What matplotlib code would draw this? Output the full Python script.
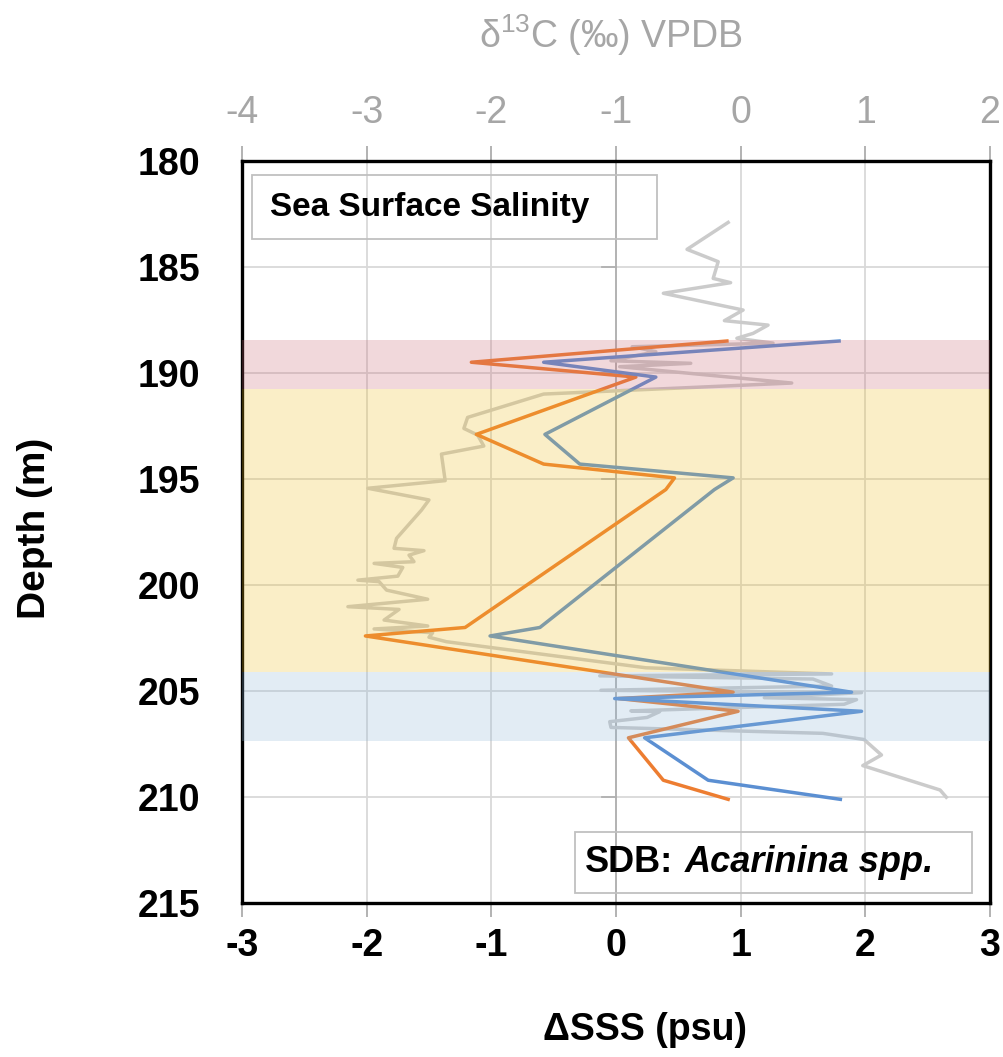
import numpy as np
import matplotlib
matplotlib.use("Agg")
import matplotlib.pyplot as plt
from matplotlib.patches import Rectangle

plt.rcParams['font.family'] = ['Liberation Sans', 'DejaVu Sans']
plt.rcParams['mathtext.default'] = 'regular'
plt.rcParams['axes.unicode_minus'] = False

# SDB salinity reconstructions (depth in m, delta SSS in psu)
depth_sdb = [188.5, 189.5, 190.2, 192.9, 194.3, 194.95, 195.5, 202.0, 202.4,
             205.05, 205.35, 205.95, 207.2, 209.2, 210.1]
sss_orange = [0.89, -1.16, 0.16, -1.12, -0.58, 0.47, 0.40, -1.21, -2.01,
              0.94, 0.02, 0.98, 0.10, 0.38, 0.90]
sss_blue = [1.79, -0.58, 0.32, -0.57, -0.29, 0.94, 0.79, -0.61, -1.01,
            1.89, -0.01, 1.97, 0.23, 0.74, 1.80]

# bulk carbon isotope record (top axis)
depth_c13 = [182.91, 184.18, 184.76, 185.55, 185.75, 186.25, 187.04, 187.54, 187.75,
             188.14, 188.37, 188.6, 188.77, 189.0, 189.43, 189.55, 189.71, 190.48,
             191.0, 192.1, 192.62, 192.93, 193.45, 193.83, 195.08, 195.44, 195.99,
             196.47, 197.8, 198.27, 198.38, 198.59, 198.9, 198.98, 199.17, 199.58,
             199.77, 199.84, 200.24, 200.67, 201.02, 201.15, 201.65, 201.93, 202.07,
             202.25, 202.46, 202.67, 203.9, 204.19, 204.28, 204.43, 204.76, 204.96,
             205.07, 205.31, 205.4, 205.62, 205.93, 205.97, 206.24, 206.44, 206.71,
             206.99, 207.28, 208.01, 208.51, 209.66, 210.0]
d13c = [-0.10, -0.43, -0.18, -0.22, -0.08, -0.62, 0.02, -0.13, 0.22,
        0.10, -0.03, 0.26, -0.87, -0.68, -1.04, -0.40, -0.97, 0.41,
        -1.58, -2.19, -2.22, -2.11, -2.06, -2.40, -2.37, -2.99, -2.50,
        -2.56, -2.76, -2.78, -2.54, -2.66, -2.62, -2.94, -2.71, -2.75,
        -3.07, -2.90, -2.84, -2.51, -3.15, -2.74, -2.86, -2.51, -2.94,
        -2.47, -2.50, -2.36, -0.76, 0.73, -1.13, 0.58, 0.73, -1.12,
        0.97, 0.19, 0.93, 0.83, -0.88, -0.65, -0.75, -1.05, -1.04,
        0.66, 0.99, 1.13, 0.98, 1.60, 1.65]

# shaded intervals (top, bottom depth)
bands = [(188.45, 190.75, '#cb6773'), (190.75, 204.1, '#efbf23'), (204.1, 207.35, '#8fb7d7')]

depth_ticks = list(range(180, 216, 5))
sss_ticks = [-3, -2, -1, 0, 1, 2, 3]
c13_ticks = [-4, -3, -2, -1, 0, 1, 2]

gray_txt = '#a6a6a6'
grid_col = '#d9d9d9'

fig = plt.figure(figsize=(10.04, 10.57), dpi=100)
ax = fig.add_axes([0.241, 0.1454, 0.745, 0.7026])
ax2 = ax.twiny()
# carbon axis goes underneath so the salinity lines sit on top of it
ax.set_zorder(ax2.get_zorder() + 1)
ax.patch.set_visible(False)

# --- bottom layer: grid + d13C
ax2.set_xlim(-4, 2)
ax2.set_ylim(215, 180)
ax2.set_xticks(c13_ticks)
for x in c13_ticks[1:-1]:
    ax2.axvline(x, color=grid_col, lw=1.3, zorder=0.5)
for d in depth_ticks[1:-1]:
    ax2.axhline(d, color=grid_col, lw=1.3, zorder=0.5)
ax2.axvline(-1, color='#b0b0b0', lw=1.3, zorder=1)
for d in depth_ticks[1:-1]:
    ax2.plot([-1.11, -1.0], [d, d], color='#b0b0b0', lw=1.3, zorder=1)
ax2.plot(d13c, depth_c13, color='#cbcbcb', lw=2.5, zorder=2)
ax2.tick_params(axis='x', which='both', direction='out', length=11, width=1.2,
                color=gray_txt, labelcolor=gray_txt, labelsize=27, pad=10)
for s in ax2.spines.values():
    s.set_visible(False)

# --- top layer: SDB salinity
ax.set_xlim(-3, 3)
ax.set_ylim(215, 180)
ax.plot(sss_orange, depth_sdb, color='#ed7d31', lw=2.5, zorder=2)
ax.plot(sss_blue, depth_sdb, color='#5b8fd2', lw=2.5, zorder=2)
for top, bot, col in bands:
    ax.axhspan(top, bot, color=col, alpha=0.25, lw=0, zorder=3)

ax.set_xticks(sss_ticks)
ax.set_yticks(depth_ticks)
ax.tick_params(axis='x', direction='out', length=10, width=1.2, color=gray_txt,
               labelsize=27, pad=8)
ax.tick_params(axis='y', length=0, labelsize=27, pad=30)
for lab in ax.get_xticklabels() + ax.get_yticklabels():
    lab.set_fontweight('bold')
for s in ax.spines.values():
    s.set_linewidth(2.4)
    s.set_color('black')

# labels
fig.text(35 / 1004, 1 - 528 / 1057, 'Depth (m)', rotation=90, fontsize=28,
         fontweight='bold', ha='center', va='center')
fig.text(645 / 1004, 1 - 1030 / 1057, 'ΔSSS (psu)', fontsize=27,
         fontweight='bold', ha='center', va='center')
fig.text(611 / 1004, 1 - 35 / 1057, r'δ$^{13}$C (‰) VPDB', fontsize=27,
         color=gray_txt, ha='center', va='center')

# annotation boxes
ax.add_patch(Rectangle((0.0134, 0.894), 0.5416, 0.087, transform=ax.transAxes,
                       fill=False, edgecolor='#c0c0c0', lw=1.3, zorder=5))
ax.text(0.037, 0.937, 'Sea Surface Salinity', transform=ax.transAxes, fontsize=24,
        fontweight='bold', va='center', ha='left', zorder=6)
ax.add_patch(Rectangle((0.445, 0.0134), 0.531, 0.082, transform=ax.transAxes,
                       fill=False, edgecolor='#c0c0c0', lw=1.3, zorder=5))
ax.text(0.458, 0.055, 'SDB:', transform=ax.transAxes, fontsize=26,
        fontweight='bold', va='center', ha='left', zorder=6)
ax.text(0.592, 0.055, 'Acarinina spp.', transform=ax.transAxes, fontsize=26,
        fontweight='bold', fontstyle='italic', va='center', ha='left', zorder=6)

plt.savefig('out.png', dpi=100)
